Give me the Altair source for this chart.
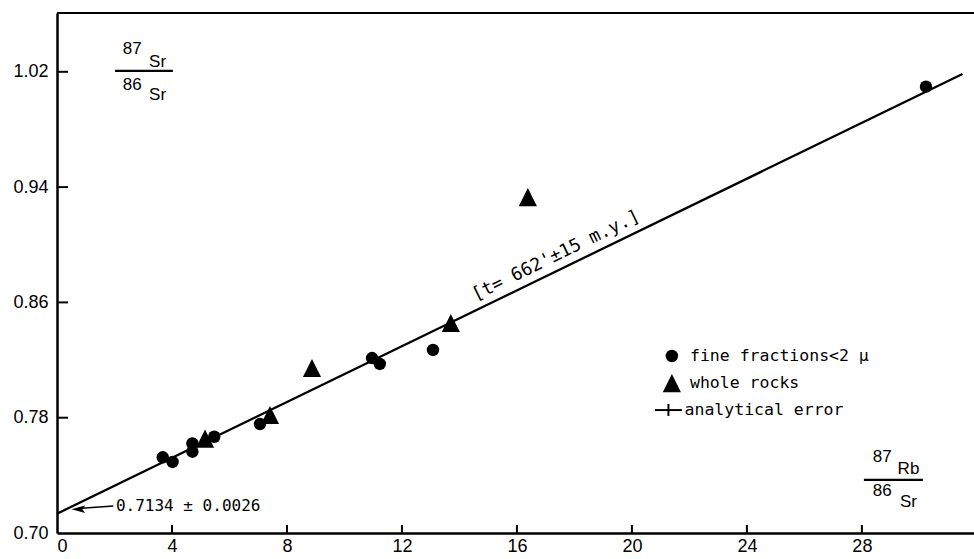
import altair as alt
import pandas as pd

# ---- data ----
fine_x = [3.68, 4.02, 4.71, 4.71, 5.47, 7.06, 10.96, 11.23, 13.08, 30.23]
fine_y = [0.7525, 0.7493, 0.7622, 0.7564, 0.7668, 0.7756, 0.8214, 0.8173, 0.8270, 1.0097]
rock_x = [5.15, 7.41, 8.87, 13.70, 16.38]
rock_y = [0.7655, 0.7819, 0.8145, 0.8457, 0.9331]
iso_x = [0.0, 31.5]
iso_y = [0.7134, 1.0185]
x_ticks = [0, 4, 8, 12, 16, 20, 24, 28]
y_ticks = [0.70, 0.78, 0.86, 0.94, 1.02]

X_DOM = [0, 31.9]
Y_DOM = [0.70, 1.0608]
W, H = 917, 520

xs = alt.Scale(domain=X_DOM, nice=False, zero=False)
ys = alt.Scale(domain=Y_DOM, nice=False, zero=False)

MONO = "DejaVu Sans Mono"
SANS = "Liberation Sans"

fine = pd.DataFrame({"x": fine_x, "y": fine_y})
rock = pd.DataFrame({"x": rock_x, "y": rock_y})
iso = pd.DataFrame({"x": iso_x, "y": iso_y})

TRI = "M0,-1L1,1L-1,1Z"

base_x = alt.X("x:Q", scale=xs,
               axis=alt.Axis(values=x_ticks, format="d", tickSize=0, labelPadding=4,
                             labelFont=SANS, labelFontSize=18, labelColor="black",
                             domainColor="black", domainWidth=2.5, grid=False, title=None))
base_y = alt.Y("y:Q", scale=ys,
               axis=alt.Axis(values=y_ticks, format=".2f", tickSize=0, labelPadding=9,
                             labelFont=SANS, labelFontSize=18, labelColor="black",
                             domainColor="black", domainWidth=2.5, grid=False, title=None))

line = alt.Chart(iso).mark_line(color="black", strokeWidth=2.3).encode(x=base_x, y=base_y)

circles = alt.Chart(fine).mark_point(shape="circle", filled=True, color="black",
                                     size=155, opacity=1).encode(
    x=alt.X("x:Q", scale=xs), y=alt.Y("y:Q", scale=ys))
tris = alt.Chart(rock).mark_point(shape=TRI, filled=True, color="black",
                                  size=330, opacity=1).encode(
    x=alt.X("x:Q", scale=xs), y=alt.Y("y:Q", scale=ys))

# inward tick marks
yt = alt.Chart(pd.DataFrame({"y": y_ticks[1:]})).mark_rule(color="black", strokeWidth=2).encode(
    y=alt.Y("y:Q", scale=ys), x=alt.value(0), x2=alt.value(11))
xt = alt.Chart(pd.DataFrame({"x": x_ticks[1:]})).mark_rule(color="black", strokeWidth=2).encode(
    x=alt.X("x:Q", scale=xs), y=alt.value(H), y2=alt.value(H - 8))

# top border
top = alt.Chart(pd.DataFrame({"y": [Y_DOM[1]]})).mark_rule(color="black", strokeWidth=2).encode(
    y=alt.Y("y:Q", scale=ys), x=alt.value(0), x2=alt.value(W))

# fraction labels
frac_txt = pd.DataFrame({
    "x": [2.62, 3.50, 2.62, 3.50, 28.71, 29.62, 28.71, 29.62],
    "y": [1.0355, 1.0270, 1.0105, 1.0040, 0.7525, 0.7445, 0.7290, 0.7212],
    "t": ["87", "Sr", "86", "Sr", "87", "Rb", "86", "Sr"],
})
frac = alt.Chart(frac_txt).mark_text(font=SANS, fontSize=17, color="black").encode(
    x=alt.X("x:Q", scale=xs), y=alt.Y("y:Q", scale=ys), text="t:N")
bars = alt.Chart(pd.DataFrame({"x": [2.02, 28.07], "x2": [4.03, 30.12], "y": [1.0206, 0.7368]})).mark_rule(
    color="black", strokeWidth=2.2).encode(
    x=alt.X("x:Q", scale=xs), x2="x2:Q", y=alt.Y("y:Q", scale=ys))

# intercept label with arrow
icpt = alt.Chart(pd.DataFrame({"x": [2.05], "y": [0.7187], "t": ["0.7134 \u00b1 0.0026"]})).mark_text(
    font=MONO, fontSize=16, align="left", color="black").encode(
    x=alt.X("x:Q", scale=xs), y=alt.Y("y:Q", scale=ys), text="t:N")
arrow = alt.Chart(pd.DataFrame({"x": [0.73], "x2": [1.96], "y": [0.7170], "y2": [0.7187]})).mark_rule(
    color="black", strokeWidth=1.6).encode(
    x=alt.X("x:Q", scale=xs), x2="x2:Q", y=alt.Y("y:Q", scale=ys), y2="y2:Q")
head = alt.Chart(pd.DataFrame({"x": [0.74], "y": [0.7165]})).mark_point(
    shape="M-1,0L1,-0.55L0.6,0L1,0.55Z", filled=True, color="black", size=190, opacity=1).encode(
    x=alt.X("x:Q", scale=xs), y=alt.Y("y:Q", scale=ys))

# age label along the isochron
age = alt.Chart(pd.DataFrame({"x": [17.36], "y": [0.8922], "t": ["[t= 662'\u00b115 m.y.]"]})).mark_text(
    font=MONO, fontSize=18, angle=334, color="black").encode(
    x=alt.X("x:Q", scale=xs), y=alt.Y("y:Q", scale=ys), text="t:N")

# legend
lg_c = alt.Chart(pd.DataFrame({"x": [21.39], "y": [0.8228]})).mark_point(
    shape="circle", filled=True, color="black", size=155, opacity=1).encode(
    x=alt.X("x:Q", scale=xs), y=alt.Y("y:Q", scale=ys))
lg_t = alt.Chart(pd.DataFrame({"x": [21.39], "y": [0.8040]})).mark_point(
    shape=TRI, filled=True, color="black", size=330, opacity=1).encode(
    x=alt.X("x:Q", scale=xs), y=alt.Y("y:Q", scale=ys))
lg_h = alt.Chart(pd.DataFrame({"x": [20.80], "x2": [21.74], "y": [0.7853]})).mark_rule(
    color="black", strokeWidth=2).encode(
    x=alt.X("x:Q", scale=xs), x2="x2:Q", y=alt.Y("y:Q", scale=ys))
lg_v = alt.Chart(pd.DataFrame({"x": [21.27], "y": [0.7895], "y2": [0.7812]})).mark_rule(
    color="black", strokeWidth=2).encode(
    x=alt.X("x:Q", scale=xs), y=alt.Y("y:Q", scale=ys), y2="y2:Q")
lg_txt = alt.Chart(pd.DataFrame({
    "x": [22.02, 22.02, 21.83],
    "y": [0.8228, 0.8040, 0.7853],
    "t": ["fine fractions<2 \u03bc", "whole rocks", "analytical error"],
})).mark_text(font=MONO, fontSize=16.5, align="left", color="black").encode(
    x=alt.X("x:Q", scale=xs), y=alt.Y("y:Q", scale=ys), text="t:N")

chart = alt.layer(
    line, top, yt, xt, circles, tris, frac, bars, icpt, arrow, head, age,
    lg_c, lg_t, lg_h, lg_v, lg_txt
).properties(
    width=W, height=H,
    autosize=alt.AutoSizeParams(type="none"),
    padding={"left": 57, "top": 13, "right": 0, "bottom": 26},
    background="white",
).configure_view(stroke=None)

chart.save("out.html", embed_options={"renderer": "svg", "actions": False})
